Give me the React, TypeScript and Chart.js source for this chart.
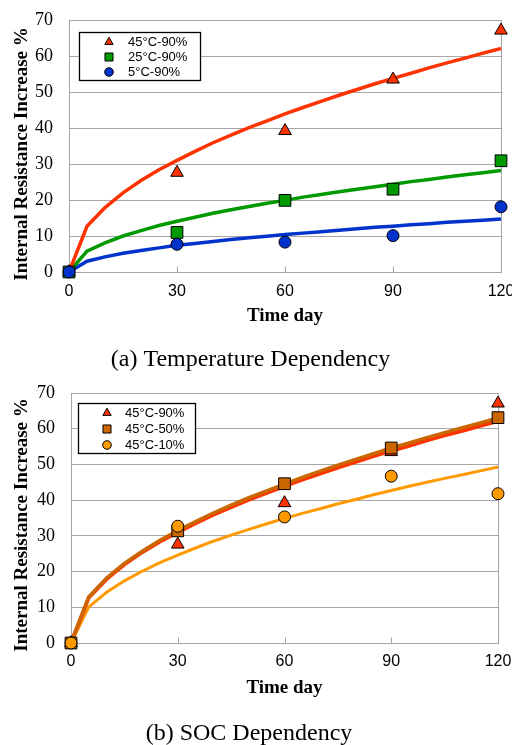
import React, { useEffect, useRef } from 'react';
import { Chart, registerables } from 'chart.js';
import { drawPoint } from 'chart.js/helpers';

Chart.register(...registerables);

// ---------------- data ----------------
const DAYS = [0, 30, 60, 90, 120];
const FIT_DAYS = [0, 5, 10, 15, 20, 25, 30, 35, 40, 45, 50, 55, 60, 65, 70, 75, 80, 85, 90, 95, 100, 105, 110, 115, 120];
const X_TICKS = [0, 30, 60, 90, 120];
const Y_TICKS = [0, 10, 20, 30, 40, 50, 60, 70];

const LABEL_45_90 = '45°C-90%';
const LABEL_25_90 = '25°C-90%';
const LABEL_5_90 = '5°C-90%';
const LABEL_45_50 = '45°C-50%';
const LABEL_45_10 = '45°C-10%';

const R_45_90 = [0, 27.6, 39.2, 53.5, 67.1];
const R_25_90 = [0, 11.0, 19.9, 23.0, 30.9];
const R_5_90 = [0, 7.7, 8.3, 10.1, 18.1];
const R_45_50 = [0, 31.4, 44.6, 54.6, 63.1];
const R_45_10 = [0, 32.7, 35.3, 46.7, 41.8];

const FIT_45_90 = [0, 12.7, 17.9, 22.0, 25.4, 28.4, 31.0, 33.5, 35.9, 38.0, 40.1, 42.0, 43.9, 45.7, 47.4, 49.1, 50.7, 52.3, 53.8, 55.2, 56.7, 58.1, 59.4, 60.8, 62.1];
const FIT_25_90 = [0, 5.8, 8.1, 10.0, 11.5, 12.9, 14.1, 15.2, 16.3, 17.3, 18.2, 19.1, 19.9, 20.8, 21.5, 22.3, 23.0, 23.7, 24.4, 25.1, 25.7, 26.4, 27.0, 27.6, 28.2];
const FIT_5_90 = [0, 3.0, 4.2, 5.2, 6.0, 6.7, 7.4, 7.9, 8.5, 9.0, 9.5, 9.9, 10.4, 10.8, 11.2, 11.6, 12.0, 12.4, 12.7, 13.1, 13.4, 13.8, 14.1, 14.4, 14.7];
const FIT_45_50 = [0, 12.9, 18.2, 22.3, 25.7, 28.8, 31.5, 34.0, 36.4, 38.6, 40.7, 42.6, 44.5, 46.4, 48.1, 49.8, 51.4, 53.0, 54.6, 56.0, 57.5, 58.9, 60.3, 61.6, 63.0];
const FIT_45_10 = [0, 10.1, 14.2, 17.4, 20.1, 22.5, 24.6, 26.6, 28.5, 30.2, 31.8, 33.4, 34.9, 36.3, 37.6, 39.0, 40.2, 41.5, 42.7, 43.9, 45.0, 46.1, 47.1, 48.2, 49.3];

const X_TITLE = 'Time day';
const Y_TITLE = 'Internal Resistance Increase %';
const CAPTION_A = '(a) Temperature Dependency';
const CAPTION_B = '(b) SOC Dependency';

// ---------------- styles ----------------
const SERIF = "'Liberation Serif', 'Times New Roman', serif";
const SANS = "'Liberation Sans', Arial, sans-serif";
const GRID = '#a6a6a6';

const RED = '#FF3300';
const GREEN = '#009900';
const BLUE = '#0033CC';
const BROWN = '#CC6600';
const ORANGE = '#FF9900';

type Style = 'triangle' | 'rect' | 'circle';
const POINT_R: Record<Style, number> = { triangle: 7.3, rect: 8.3, circle: 6 };
const LEGEND_R: Record<Style, number> = { triangle: 4.8, rect: 5.7, circle: 4.3 };

type Measured = { label: string; values: number[]; color: string; style: Style };
type Fit = { values: number[]; color: string; width: number };

type Panel = {
  top: number;
  height: number;
  caption: string;
  measured: Measured[];
  fits: Fit[];
  pad: { top: number; right: number };
  yWidth: number;
  xHeight: number;
  xTickPad: number;
  xTitlePb: number;
  yTitle: { x: number; dy: number };
  legend: { dx: number; dy: number; w: number; h: number; markerX: number; textX: number; rows: number[] };
};

const PANEL_A: Panel = {
  top: 0,
  height: 374,
  caption: CAPTION_A,
  measured: [
    { label: LABEL_45_90, values: R_45_90, color: RED, style: 'triangle' },
    { label: LABEL_25_90, values: R_25_90, color: GREEN, style: 'rect' },
    { label: LABEL_5_90, values: R_5_90, color: BLUE, style: 'circle' },
  ],
  fits: [
    { values: FIT_5_90, color: BLUE, width: 3.5 },
    { values: FIT_25_90, color: GREEN, width: 3.5 },
    { values: FIT_45_90, color: RED, width: 3.5 },
  ],
  pad: { top: 20, right: 11 },
  yWidth: 69,
  xHeight: 63.2,
  xTickPad: 10.4,
  xTitlePb: 7.8,
  yTitle: { x: 22, dy: 8 },
  legend: { dx: 10, dy: 12, w: 121, h: 48, markerX: 30, textX: 49, rows: [10, 25, 40] },
};

const PANEL_B: Panel = {
  top: 374,
  height: 374,
  caption: CAPTION_B,
  measured: [
    { label: LABEL_45_90, values: R_45_90, color: RED, style: 'triangle' },
    { label: LABEL_45_50, values: R_45_50, color: BROWN, style: 'rect' },
    { label: LABEL_45_10, values: R_45_10, color: ORANGE, style: 'circle' },
  ],
  fits: [
    { values: FIT_45_10, color: ORANGE, width: 3 },
    { values: FIT_45_90, color: RED, width: 3.8 },
    { values: FIT_45_50, color: BROWN, width: 3.5 },
  ],
  pad: { top: 19, right: 14 },
  yWidth: 71,
  xHeight: 66.2,
  xTickPad: 9.4,
  xTitlePb: 9.8,
  yTitle: { x: 22, dy: 7 },
  legend: { dx: 7, dy: 10, w: 117, h: 50, markerX: 29, textX: 47, rows: [10, 26, 42] },
};

// ---------------- plugins ----------------
const framePlugin = {
  id: 'frame',
  beforeDatasetsDraw(chart: any) {
    const { ctx, chartArea: a, scales } = chart;
    const x = scales.x;
    ctx.save();
    ctx.strokeStyle = GRID;
    ctx.lineWidth = 1;
    const l = Math.round(a.left) + 0.5;
    const t = Math.round(a.top) + 0.5;
    const r = Math.round(a.right) + 0.5;
    const b = Math.round(a.bottom) + 0.5;
    ctx.strokeRect(l, t, r - l, b - t);
    x.ticks.forEach((tk: any) => {
      const px = Math.round(x.getPixelForValue(tk.value)) + 0.5;
      ctx.beginPath();
      ctx.moveTo(px, b);
      ctx.lineTo(px, b - 6);
      ctx.stroke();
    });
    ctx.restore();
  },
};

const yTitlePlugin = {
  id: 'yTitle',
  afterDraw(chart: any, _args: any, opts: any) {
    if (!opts || !opts.text) return;
    const { ctx, chartArea: a } = chart;
    ctx.save();
    ctx.translate(opts.x, (a.top + a.bottom) / 2 + opts.dy);
    ctx.rotate(-Math.PI / 2);
    ctx.font = `bold 19px ${SERIF}`;
    ctx.fillStyle = '#000000';
    ctx.textAlign = 'center';
    ctx.textBaseline = 'middle';
    ctx.fillText(opts.text, 0, 0);
    ctx.restore();
  },
};

const boxLegendPlugin = {
  id: 'boxLegend',
  afterDatasetsDraw(chart: any, _args: any, opts: any) {
    if (!opts || opts.w === undefined) return;
    const { ctx, chartArea: a } = chart;
    const bx = Math.round(a.left + opts.dx);
    const by = Math.round(a.top + opts.dy);
    ctx.save();
    ctx.fillStyle = '#ffffff';
    ctx.fillRect(bx, by, opts.w, opts.h);
    ctx.strokeStyle = '#000000';
    ctx.lineWidth = 1.3;
    ctx.strokeRect(bx + 0.5, by + 0.5, opts.w, opts.h);
    const items = chart.data.datasets.filter((d: any) => d.label);
    items.forEach((d: any, i: number) => {
      const y = by + opts.rows[i];
      ctx.fillStyle = d.backgroundColor;
      ctx.strokeStyle = '#000000';
      ctx.lineWidth = 1;
      drawPoint(ctx, { pointStyle: d.pointStyle, radius: LEGEND_R[d.pointStyle as Style], borderWidth: 1, rotation: 0 } as any, bx + opts.markerX, y);
      ctx.fillStyle = '#000000';
      ctx.font = `13px ${SANS}`;
      ctx.textBaseline = 'middle';
      ctx.textAlign = 'left';
      ctx.fillText(d.label, bx + opts.textX, y + 0.5);
    });
    ctx.restore();
  },
};

function buildConfig(p: Panel): any {
  const lineSets = p.fits.map((f, i) => ({
    data: FIT_DAYS.map((d, j) => ({ x: d, y: f.values[j] })),
    borderColor: f.color,
    backgroundColor: f.color,
    borderWidth: f.width,
    showLine: true,
    pointRadius: 0,
    tension: 0,
    clip: false,
    order: 10 + (p.fits.length - i),
  }));
  const pointSets = p.measured.map((m, i) => ({
    label: m.label,
    data: DAYS.map((d, j) => ({ x: d, y: m.values[j] })),
    showLine: false,
    pointStyle: m.style,
    pointRadius: POINT_R[m.style],
    pointBackgroundColor: m.color,
    backgroundColor: m.color,
    pointBorderColor: '#000000',
    pointBorderWidth: 1,
    clip: false,
    order: p.measured.length - i,
  }));

  return {
    type: 'scatter',
    data: { datasets: [...lineSets, ...pointSets] },
    plugins: [framePlugin, boxLegendPlugin, yTitlePlugin],
    options: {
      animation: false,
      responsive: false,
      events: [],
      layout: { padding: { top: p.pad.top, right: p.pad.right, left: 0, bottom: 0 } },
      plugins: {
        legend: { display: false },
        tooltip: { enabled: false },
        title: {
          display: true,
          position: 'bottom',
          text: p.caption,
          color: '#000',
          font: { family: SERIF, size: 24, weight: 'normal' },
          padding: { top: 10, bottom: 0 },
        },
        boxLegend: p.legend,
        yTitle: { text: Y_TITLE, x: p.yTitle.x, dy: p.yTitle.dy },
      },
      scales: {
        x: {
          type: 'linear',
          min: 0,
          max: 120,
          afterBuildTicks: (s: any) => {
            s.ticks = X_TICKS.map((v) => ({ value: v }));
          },
          afterFit: (s: any) => {
            s.height = p.xHeight;
            s.paddingLeft = 0;
            s.paddingRight = 0;
          },
          grid: { display: false, drawTicks: false },
          border: { display: false },
          ticks: {
            color: '#000',
            font: { family: SANS, size: 16 },
            padding: p.xTickPad,
            maxRotation: 0,
            autoSkip: false,
          },
          title: {
            display: true,
            text: X_TITLE,
            color: '#000',
            font: { family: SERIF, size: 19, weight: 'bold' },
            padding: { top: 0, bottom: p.xTitlePb },
          },
        },
        y: {
          type: 'linear',
          min: 0,
          max: 70,
          afterBuildTicks: (s: any) => {
            s.ticks = Y_TICKS.map((v) => ({ value: v }));
          },
          afterFit: (s: any) => {
            s.width = p.yWidth;
            s.paddingTop = 0;
            s.paddingBottom = 0;
          },
          grid: { display: true, color: GRID, lineWidth: 1, drawTicks: false },
          border: { display: false },
          ticks: {
            color: '#000',
            font: { family: SERIF, size: 18 },
            padding: 16,
            autoSkip: false,
          },
          title: { display: false },
        },
      },
    },
  };
}

function ChartPanel({ panel }: { panel: Panel }) {
  const ref = useRef<HTMLCanvasElement | null>(null);
  useEffect(() => {
    if (!ref.current) return;
    const chart = new Chart(ref.current, buildConfig(panel));
    return () => chart.destroy();
  }, [panel]);
  return (
    <canvas
      ref={ref}
      width={512}
      height={panel.height}
      style={{ position: 'absolute', left: 0, top: panel.top, width: 512, height: panel.height, display: 'block' }}
    />
  );
}

export default function App() {
  return (
    <div
      style={{
        position: 'fixed',
        left: 0,
        top: 0,
        width: 512,
        height: 745,
        overflow: 'hidden',
        background: '#ffffff',
      }}
    >
      <ChartPanel panel={PANEL_A} />
      <ChartPanel panel={PANEL_B} />
    </div>
  );
}
